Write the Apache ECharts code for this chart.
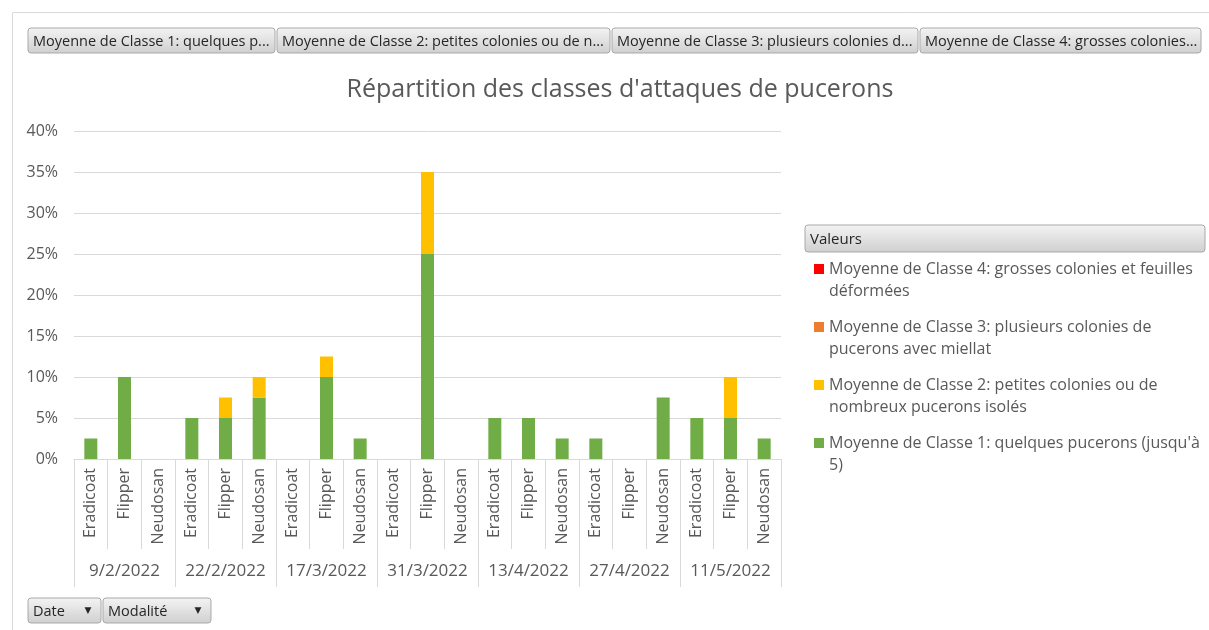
<!DOCTYPE html>
<html>
<head>
<meta charset="utf-8">
<script src="https://cdn.jsdelivr.net/npm/echarts@6/dist/echarts.min.js"></script>
<style>
  html, body { margin: 0; padding: 0; background: #fff; }
  #chart { width: 1209px; height: 630px; }
</style>
</head>
<body>
<div id="chart"></div>
<script>
// données (en %)
var dates = ['9/2/2022', '22/2/2022', '17/3/2022', '31/3/2022', '13/4/2022', '27/4/2022', '11/5/2022'];
var modalites = ['Eradicoat', 'Flipper', 'Neudosan'];
var classe1 = [2.5, 10, 0, 5, 5, 7.5, 0, 10, 2.5, 0, 25, 0, 5, 5, 2.5, 2.5, 0, 7.5, 5, 5, 2.5];
var classe2 = [0, 0, 0, 0, 2.5, 2.5, 0, 2.5, 0, 0, 10, 0, 0, 0, 0, 0, 0, 0, 0, 5, 0];
var classe3 = [0, 0, 0, 0, 0, 0, 0, 0, 0, 0, 0, 0, 0, 0, 0, 0, 0, 0, 0, 0, 0];
var classe4 = [0, 0, 0, 0, 0, 0, 0, 0, 0, 0, 0, 0, 0, 0, 0, 0, 0, 0, 0, 0, 0];
var seriesNames = [
  'Moyenne de Classe 1: quelques pucerons (jusqu\'à 5)',
  'Moyenne de Classe 2: petites colonies ou de nombreux pucerons isolés',
  'Moyenne de Classe 3: plusieurs colonies de pucerons avec miellat',
  'Moyenne de Classe 4: grosses colonies et feuilles déformées'
];
// retour à la ligne comme dans la légende Excel (ligne vide en tête pour caler le carré sur la 1re ligne)
var legendText = {};
legendText[seriesNames[0]] = '\nMoyenne de Classe 1: quelques pucerons (jusqu\'à\n5)';
legendText[seriesNames[1]] = '\nMoyenne de Classe 2: petites colonies ou de\nnombreux pucerons isolés';
legendText[seriesNames[2]] = '\nMoyenne de Classe 3: plusieurs colonies de\npucerons avec miellat';
legendText[seriesNames[3]] = '\nMoyenne de Classe 4: grosses colonies et feuilles\ndéformées';
var boutonsHaut = [
  'Moyenne de Classe 1: quelques p...',
  'Moyenne de Classe 2: petites colonies ou de n...',
  'Moyenne de Classe 3: plusieurs colonies d...',
  'Moyenne de Classe 4: grosses colonies...'
];

var categories = [];
dates.forEach(function () {
  modalites.forEach(function (m) { categories.push(m); });
});

var grisTexte = '#595959';
var grisLigne = '#d9d9d9';

// bouton de champ style Excel
function bouton(x, y, w, h, label, taille, fleche) {
  var children = [{
    type: 'rect',
    shape: { x: x, y: y, width: w, height: h, r: 3 },
    style: {
      fill: new echarts.graphic.LinearGradient(0, 0, 0, 1, [
        { offset: 0, color: '#f4f4f4' },
        { offset: 1, color: '#cfcfcf' }
      ]),
      stroke: '#a9a9a9', lineWidth: 1
    }
  }, {
    type: 'text',
    style: {
      x: x + 5, y: y + h / 2 + 1, text: label,
      fill: '#262626', font: taille + 'px "Open Sans"', verticalAlign: 'middle'
    }
  }];
  if (fleche) {
    children.push({
      type: 'text',
      style: {
        x: x + w - 13, y: y + h / 2, text: '▼', align: 'center',
        fill: '#262626', font: '9px "DejaVu Sans"', verticalAlign: 'middle'
      }
    });
  }
  return { type: 'group', children: children };
}

var graphics = [
  {
    type: 'polyline',
    shape: { points: [[12.5, 640], [12.5, 12.5], [1220, 12.5]] },
    style: { stroke: grisLigne, fill: null, lineWidth: 1 }
  },
  bouton(28, 28, 247, 25, boutonsHaut[0], 14.5),
  bouton(277, 28, 333, 25, boutonsHaut[1], 14.5),
  bouton(612, 28, 306, 25, boutonsHaut[2], 14.5),
  bouton(920, 28, 281, 25, boutonsHaut[3], 14.5),
  bouton(28, 598, 73, 25, 'Date', 14.5, true),
  bouton(103, 598, 108, 25, 'Modalité', 14.5, true),
  bouton(805, 225, 400, 27, 'Valeurs', 15)
];

var chart = echarts.init(document.getElementById('chart'));
var option = {
  animation: false,
  title: {
    text: 'Répartition des classes d\'attaques de pucerons',
    left: 615, top: 72, textAlign: 'center',
    textStyle: { fontFamily: 'Open Sans', fontSize: 25, fontWeight: 'normal', color: grisTexte }
  },
  color: ['#70ad47', '#ffc000', '#ed7d31', '#ff0000'],
  grid: { left: 74, right: 428, top: 131, bottom: 171 },
  legend: {
    orient: 'vertical',
    left: 814, top: 236,
    padding: 0,
    itemWidth: 10, itemHeight: 10,
    itemGap: -8,
    icon: 'rect',
    selectedMode: false,
    data: [seriesNames[3], seriesNames[2], seriesNames[1], seriesNames[0]],
    formatter: function (name) { return legendText[name]; },
    textStyle: {
      fontFamily: 'Open Sans', fontSize: 16, color: grisTexte, lineHeight: 22
    }
  },
  xAxis: [{
    type: 'category',
    data: categories,
    position: 'bottom',
    axisLine: { lineStyle: { color: grisLigne } },
    axisTick: { show: true, length: 90, interval: 0, lineStyle: { color: grisLigne } },
    axisLabel: {
      rotate: 90, interval: 0, margin: 9,
      fontFamily: 'Open Sans', fontSize: 16, color: grisTexte
    }
  }, {
    type: 'category',
    data: dates,
    position: 'bottom',
    axisLine: { show: false },
    axisTick: { show: true, length: 128, interval: 0, lineStyle: { color: grisLigne } },
    axisLabel: {
      interval: 0, margin: 104,
      fontFamily: 'Open Sans', fontSize: 17, color: grisTexte
    }
  }],
  yAxis: {
    type: 'value',
    min: 0, max: 40, interval: 5,
    axisLabel: {
      formatter: '{value}%', margin: 16,
      fontFamily: 'Open Sans', fontSize: 16, color: grisTexte
    },
    splitLine: { lineStyle: { color: grisLigne } },
    axisLine: { show: false },
    axisTick: { show: false }
  },
  series: [
    { name: seriesNames[0], type: 'bar', stack: 'total', barWidth: 13, data: classe1 },
    { name: seriesNames[1], type: 'bar', stack: 'total', barWidth: 13, data: classe2 },
    { name: seriesNames[2], type: 'bar', stack: 'total', barWidth: 13, data: classe3 },
    { name: seriesNames[3], type: 'bar', stack: 'total', barWidth: 13, data: classe4 }
  ],
  graphic: graphics
};
chart.setOption(option);
</script>
</body>
</html>
